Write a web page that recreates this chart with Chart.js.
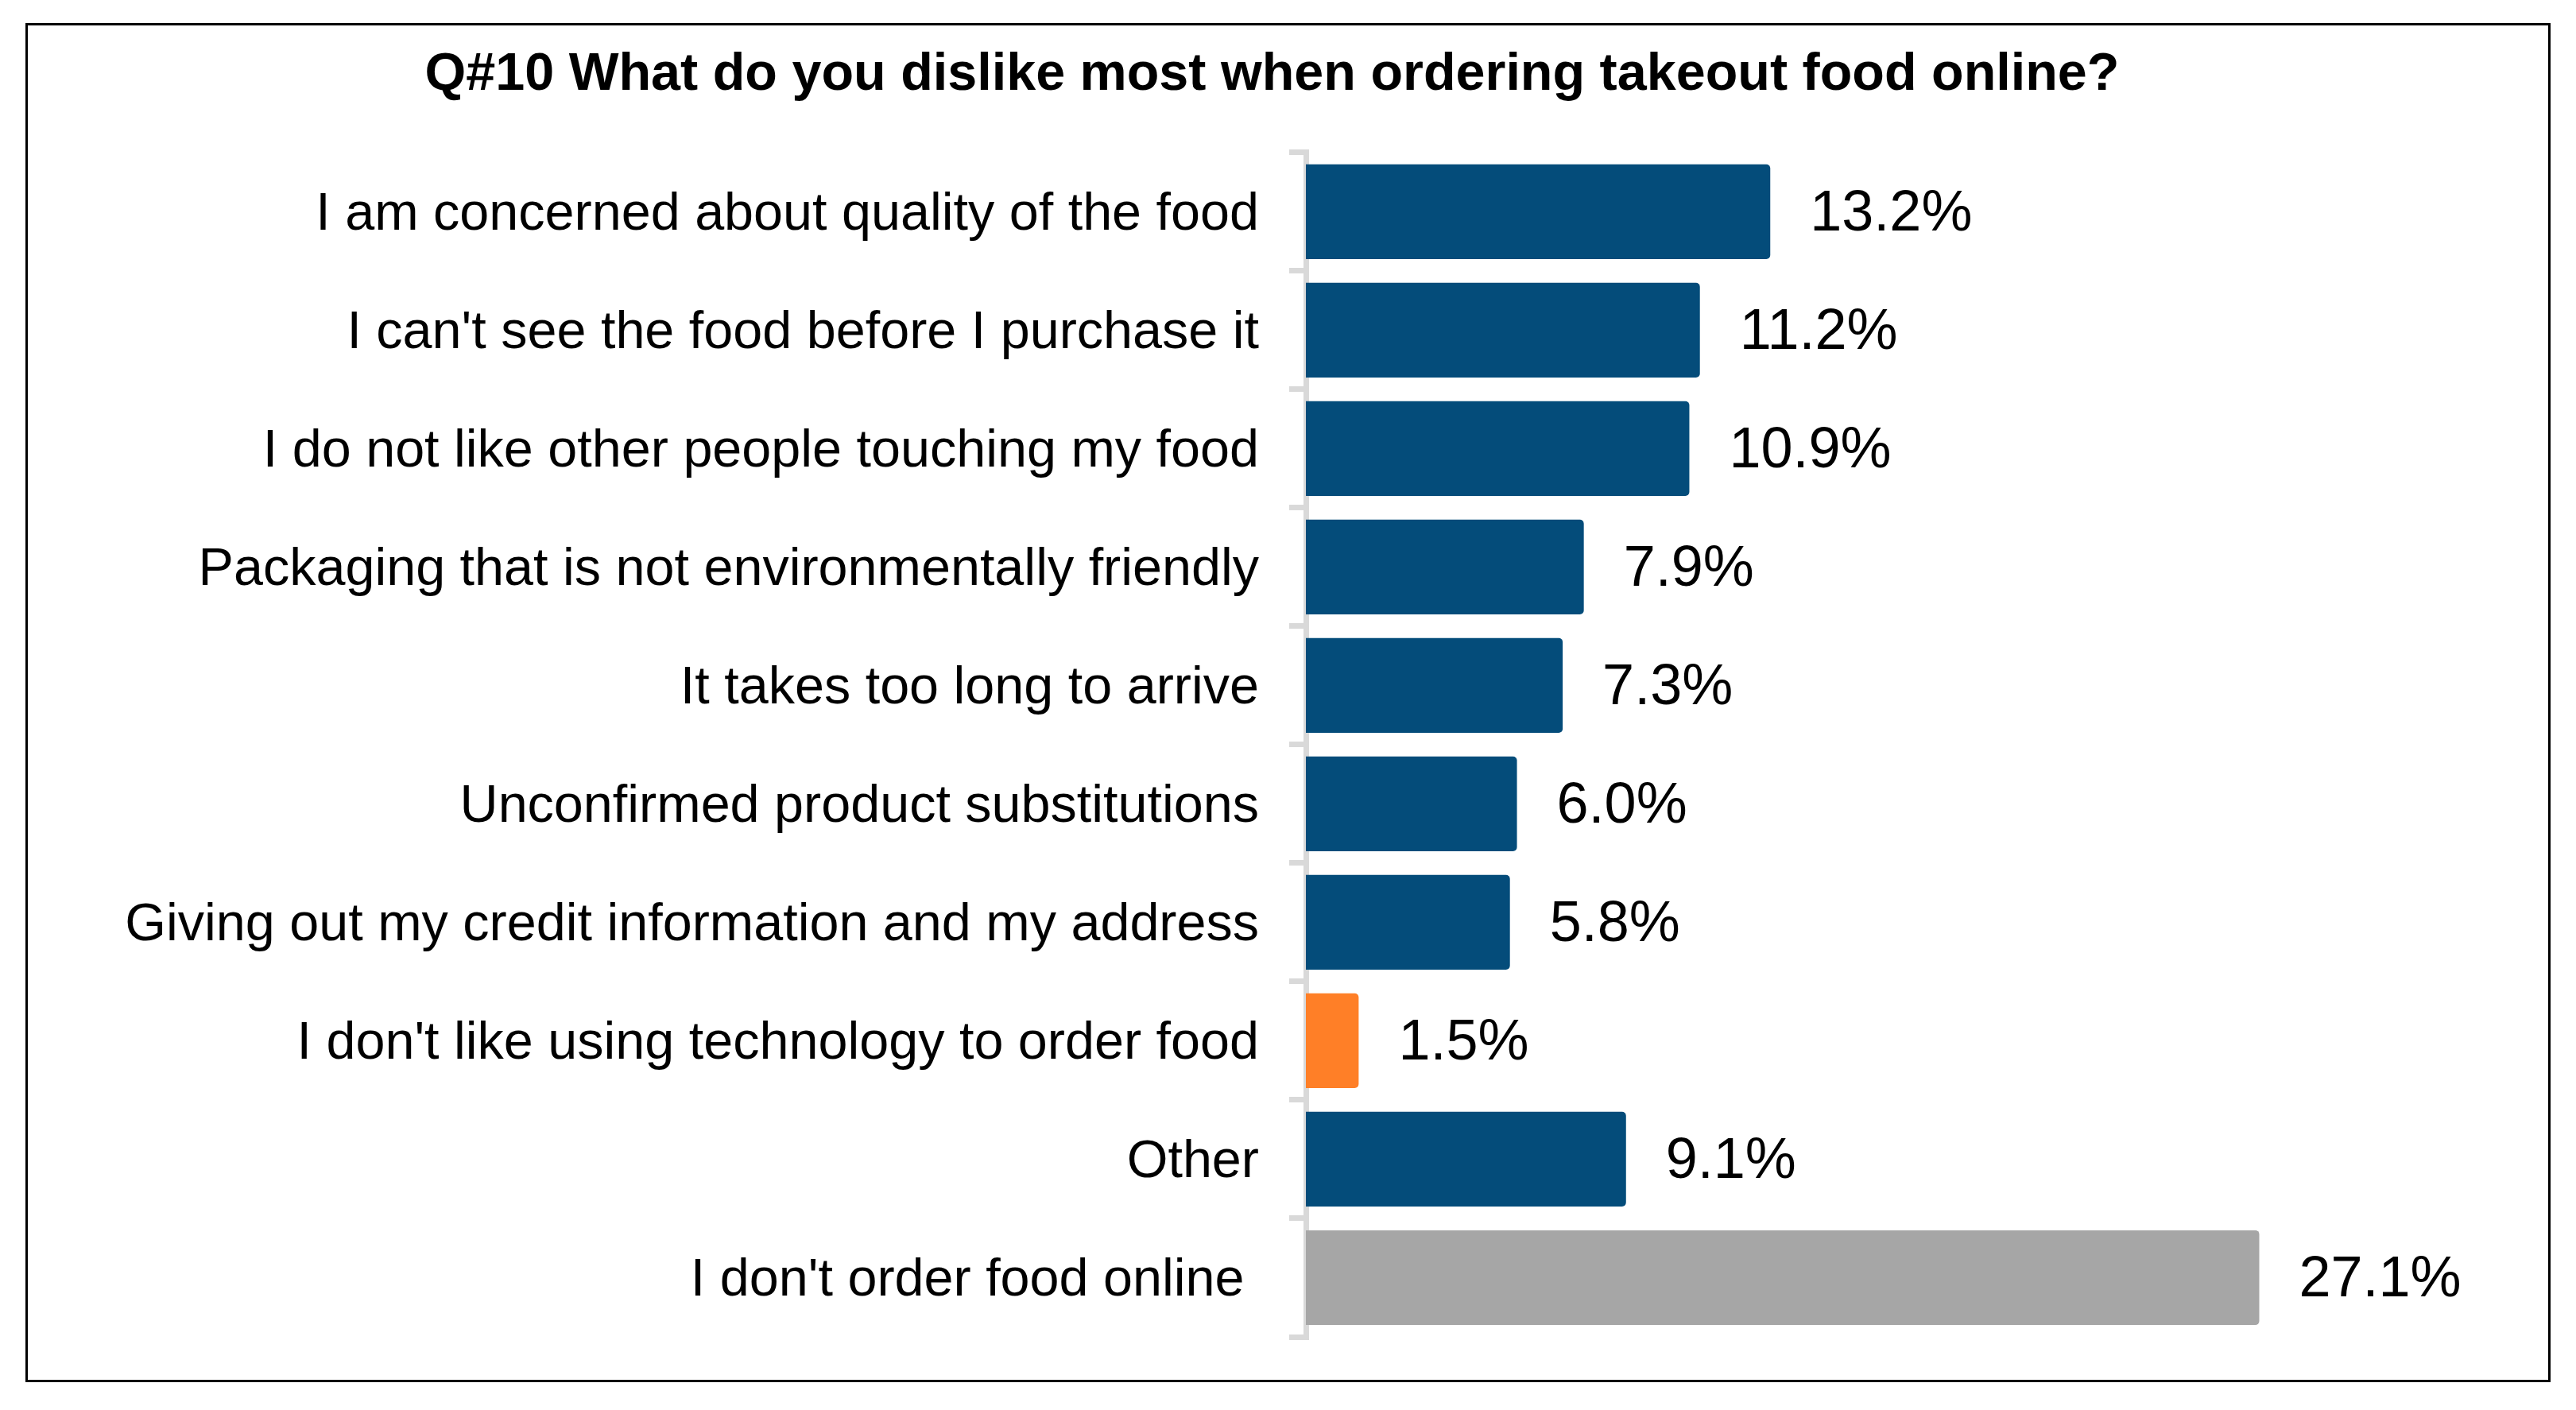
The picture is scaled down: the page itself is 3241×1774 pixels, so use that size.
<!DOCTYPE html>
<html>
<head>
<meta charset="utf-8">
<title>Q#10 takeout dislikes</title>
<script src="https://cdn.jsdelivr.net/npm/chart.js@4.4.1/dist/chart.umd.min.js"></script>
<style>
  body { margin: 0; background: #fff; }
  #wrap { position: relative; width: 3241px; height: 1774px; }
  #frame {
    position: absolute; left: 32px; top: 29px;
    width: 3177px; height: 1710px;
    box-sizing: border-box; border: 3px solid #000;
    pointer-events: none;
  }
  canvas { position: absolute; left: 0; top: 0; }
</style>
</head>
<body>
<div id="wrap">
  <canvas id="chart" width="3241" height="1774"></canvas>
  <div id="frame"></div>
</div>
<script>
// chart data
const title = 'Q#10 What do you dislike most when ordering takeout food online?';
const categories = [
  'I am concerned about quality of the food',
  "I can't see the food before I purchase it",
  'I do not like other people touching my food',
  'Packaging that is not environmentally friendly',
  'It takes too long to arrive',
  'Unconfirmed product substitutions',
  'Giving out my credit information and my address',
  "I don't like using technology to order food",
  'Other',
  "I don't order food online "
];
const values = [13.2, 11.2, 10.9, 7.9, 7.3, 6.0, 5.8, 1.5, 9.1, 27.1];
const barColors = [
  '#044C7A', '#044C7A', '#044C7A', '#044C7A', '#044C7A',
  '#044C7A', '#044C7A', '#FF7F27', '#044C7A', '#A6A6A6'
];

Chart.defaults.font.family = "'Liberation Sans', Arial, sans-serif";
Chart.defaults.color = '#000';

// --- value labels at the end of each bar ---
const valueLabels = {
  id: 'valueLabels',
  afterDatasetsDraw(chart) {
    const ctx = chart.ctx;
    const meta = chart.getDatasetMeta(0);
    ctx.save();
    ctx.font = "72px 'Liberation Sans', Arial, sans-serif";
    ctx.fillStyle = '#000';
    ctx.textAlign = 'left';
    ctx.textBaseline = 'middle';
    meta.data.forEach((bar, i) => {
      ctx.fillText(values[i].toFixed(1) + '%', bar.x + 50, bar.y + 4);
    });
    ctx.restore();
  }
};

new Chart(document.getElementById('chart'), {
  type: 'bar',
  data: {
    labels: categories,
    datasets: [{
      data: values,
      backgroundColor: barColors,
      borderRadius: 5,
      borderSkipped: 'start',
      barPercentage: 0.8,
      categoryPercentage: 1.0
    }]
  },
  options: {
    indexAxis: 'y',
    responsive: false,
    devicePixelRatio: 1,
    animation: false,
    layout: {
      padding: { left: 0, right: 40, top: 0, bottom: 92 }
    },
    plugins: {
      legend: { display: false },
      tooltip: { enabled: false },
      title: {
        display: true,
        text: title,
        color: '#000',
        font: { size: 66.5, weight: 'bold' },
        padding: { top: 55, bottom: 57 }
      }
    },
    scales: {
      x: {
        display: false,
        min: 0,
        max: 35.2
      },
      y: {
        afterFit(axis) { axis.width = 1643; },
        grid: {
          drawOnChartArea: false,
          drawTicks: true,
          tickLength: 21,
          color: '#D9D9D9',
          lineWidth: 7
        },
        border: { display: true, color: '#D9D9D9', width: 7 },
        ticks: {
          color: '#000',
          font: { size: 66.5 },
          padding: 38,
          labelOffset: 4,
          autoSkip: false
        }
      }
    }
  },
  plugins: [valueLabels]
});
</script>
</body>
</html>
